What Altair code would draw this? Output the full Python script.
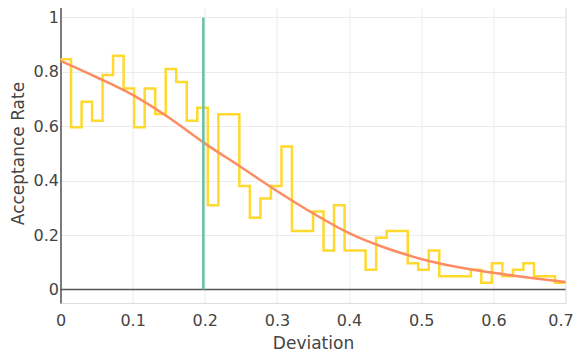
import altair as alt
import pandas as pd

# Step series (acceptance rate per deviation bin), edges
step_x = [0, 0.0146, 0.0292, 0.0438, 0.0583, 0.0729, 0.0875, 0.1021, 0.1167, 0.1313,
          0.1458, 0.1604, 0.1750, 0.1896, 0.2042, 0.2188, 0.2333, 0.2479, 0.2625, 0.2771,
          0.2917, 0.3063, 0.3208, 0.3354, 0.3500, 0.3646, 0.3792, 0.3938, 0.4083, 0.4229,
          0.4375, 0.4521, 0.4667, 0.4813, 0.4958, 0.5104, 0.5250, 0.5396, 0.5542, 0.5688,
          0.5833, 0.5979, 0.6125, 0.6271, 0.6417, 0.6563, 0.6708, 0.6854, 0.7000]
step_y = [0.846, 0.596, 0.690, 0.620, 0.788, 0.859, 0.739, 0.596, 0.739, 0.645,
          0.810, 0.763, 0.620, 0.668, 0.309, 0.644, 0.644, 0.380, 0.263, 0.334,
          0.380, 0.525, 0.215, 0.215, 0.286, 0.143, 0.309, 0.143, 0.143, 0.072,
          0.190, 0.215, 0.215, 0.096, 0.072, 0.143, 0.048, 0.048, 0.048, 0.072,
          0.024, 0.096, 0.048, 0.072, 0.096, 0.048, 0.048, 0.024, 0.024]

# Smooth fitted curve, read at regular x positions
curve_x = [0, 0.05, 0.1, 0.15, 0.2, 0.25, 0.3, 0.35, 0.4, 0.45, 0.5, 0.55, 0.6, 0.65, 0.7]
curve_y = [0.840, 0.780, 0.715, 0.632, 0.537, 0.450, 0.362, 0.280, 0.207, 0.153,
           0.112, 0.082, 0.061, 0.043, 0.027]

# Vertical marker
marker_x = [0.198]

x_ticks = [0, 0.1, 0.2, 0.3, 0.4, 0.5, 0.6, 0.7]
y_ticks = [0, 0.2, 0.4, 0.6, 0.8, 1]

step_df = pd.DataFrame({"x": step_x, "y": step_y})
curve_df = pd.DataFrame({"x": curve_x, "y": curve_y})
marker_df = pd.DataFrame({"x": marker_x, "y0": [0], "y1": [1]})
zero_df = pd.DataFrame({"y": [0]})

FONT = "DejaVu Sans"
TXT = "#444444"

xscale = alt.Scale(domain=[0, 0.7], nice=False, zero=False)
yscale = alt.Scale(domain=[-0.05, 1.053], nice=False, zero=False)

xaxis = alt.Axis(values=x_ticks, format="~g", title="Deviation", grid=True,
                 gridColor="#ebebeb", gridWidth=1, domain=False, ticks=False,
                 labelFont=FONT, labelFontSize=16, labelColor=TXT, labelPadding=9,
                 labelOffset=alt.ExprRef("datum.value >= 0.69 ? -5 : 0"),
                 titleFont=FONT, titleFontSize=17, titleColor=TXT, titleFontWeight="normal",
                 titleBaseline="alphabetic", titleY=45.5, labelFlush=False)
yaxis = alt.Axis(values=y_ticks, format="~g", title="Acceptance Rate", grid=True,
                 gridColor="#ebebeb", gridWidth=1, domain=True, domainColor="#555555",
                 domainWidth=1.5, ticks=False,
                 labelFont=FONT, labelFontSize=16, labelColor=TXT, labelPadding=2,
                 titleFont=FONT, titleFontSize=17, titleColor=TXT, titleFontWeight="normal",
                 titleBaseline="alphabetic", titleAngle=270, titleX=-37, labelFlush=False)

steps = alt.Chart(step_df).mark_line(
    interpolate="step-after", color="#ffd92f", strokeWidth=2.5
).encode(x=alt.X("x:Q", scale=xscale, axis=xaxis), y=alt.Y("y:Q", scale=yscale, axis=yaxis))

zero = alt.Chart(zero_df).mark_rule(color="#555555", strokeWidth=1.5).encode(
    y=alt.Y("y:Q", scale=yscale)
)

curve = alt.Chart(curve_df).mark_line(
    interpolate="monotone", color="#fc8d62", strokeWidth=2.5
).encode(x=alt.X("x:Q", scale=xscale), y=alt.Y("y:Q", scale=yscale))

marker = alt.Chart(marker_df).mark_rule(color="#66c2a5", strokeWidth=2.5).encode(
    x=alt.X("x:Q", scale=xscale), y=alt.Y("y0:Q", scale=yscale), y2="y1:Q"
)

chart = alt.layer(zero, steps, curve, marker).properties(
    width=505, height=300,
    autosize=alt.AutoSizeParams(type="none"),
    padding={"left": 52.5, "top": -5, "right": 8, "bottom": 50},
).configure_view(stroke=None).configure(background="white")

chart.save("out.html", embed_options={"renderer": "svg", "actions": False})
